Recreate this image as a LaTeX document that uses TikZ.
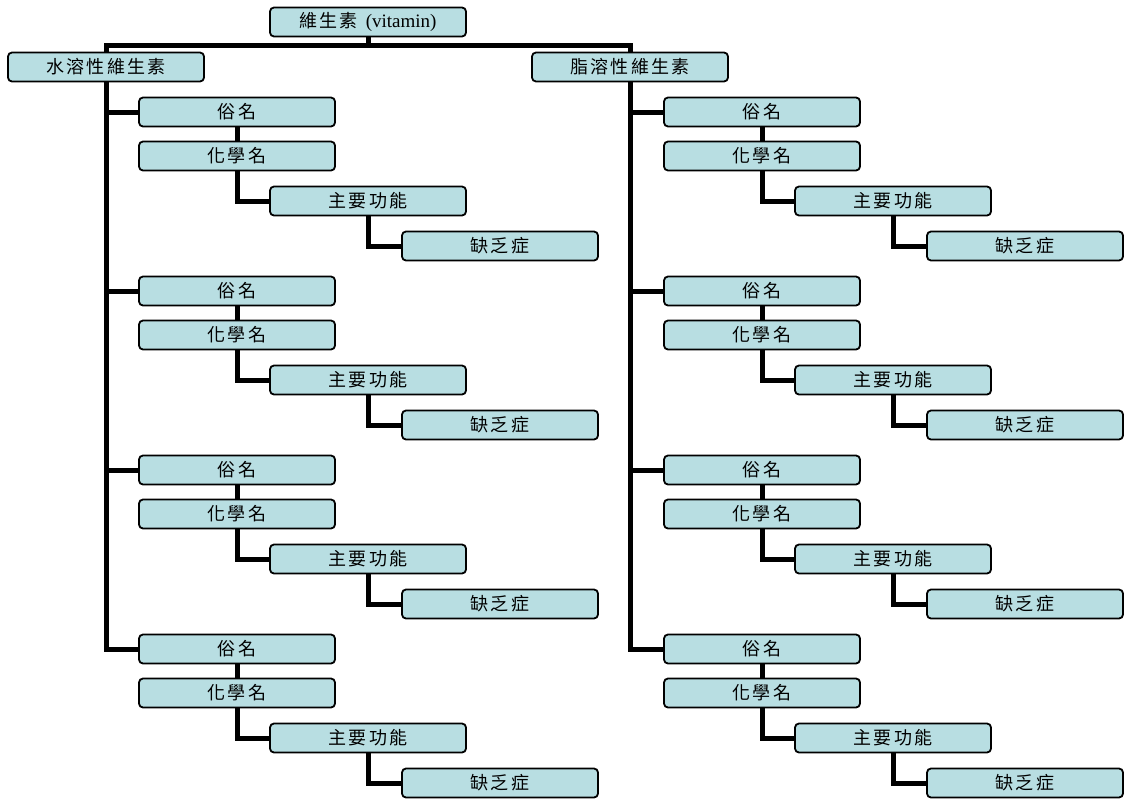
\documentclass[tikz,border=0pt]{standalone}
\usepackage{fontspec}
\setmainfont{Liberation Serif}
\newfontfamily\cjk[LetterSpace=12]{Noto Sans CJK TC}
\definecolor{vitfill}{RGB}{184,222,226}
\usetikzlibrary{positioning}
\tikzset{
  vbox/.style={rectangle,rounded corners=4pt,draw=black,line width=1.8pt,
               fill=vitfill,minimum width=196pt,minimum height=29pt,
               inner sep=0pt,font=\fontsize{18}{21}\selectfont\cjk},
  link/.style={line width=5pt,black},
}

\begin{document}
\begin{tikzpicture}[x=1pt,y=-1pt]
  \useasboundingbox (0,0) rectangle (1124,798);
  % top level
  \node[vbox] (top) at (368,22) {維生素\hspace{8pt}{\fontsize{19}{22}\selectfont\rmfamily(vitamin)}};
  \node[vbox] (water) at (106,67) {水溶性維生素};
  \node[vbox] (fat) at (630,67) {脂溶性維生素};
  \coordinate (bar) at (368,45);
  \draw[link] (top.south) -- (bar);
  \draw[link] (water.north) |- (bar) -| (fat.north);
  % four groups under each branch
  \foreach \col/\dx/\branch in {L/0/water,R/525/fat}{
    \foreach \n in {1,...,4}{
      \pgfmathsetmacro\yy{112+179*(\n-1)}
      \node[vbox] (\col\n a) at (237+\dx,\yy) {俗名};
      \node[vbox] (\col\n b) at (237+\dx,\yy+44) {化學名};
      \node[vbox] (\col\n c) at (368+\dx,\yy+89) {主要功能};
      \node[vbox] (\col\n d) at (500+\dx,\yy+134) {缺乏症};
      \draw[link] (\branch.south) |- (\col\n a.west);
      \draw[link] (\col\n a) -- (\col\n b);
      \draw[link] (\col\n b.south) |- (\col\n c.west);
      \draw[link] (\col\n c.south) |- (\col\n d.west);
    }
  }
\end{tikzpicture}
\end{document}
